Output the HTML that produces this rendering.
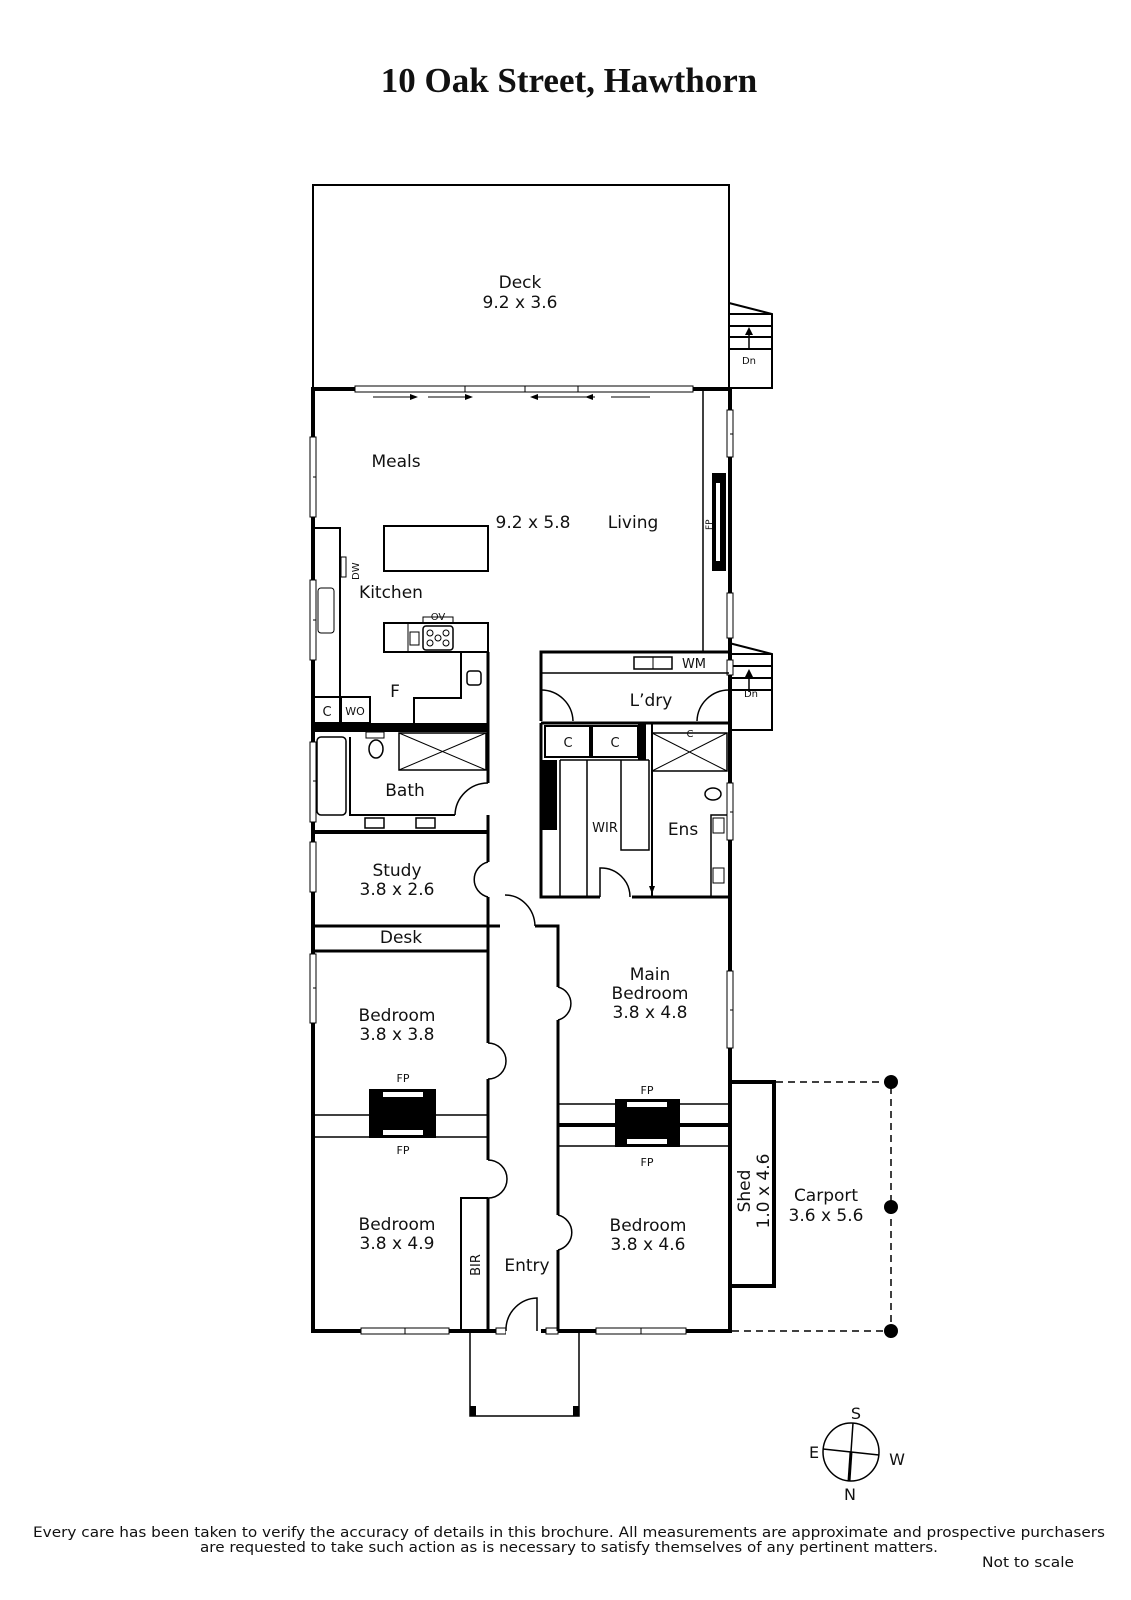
<!DOCTYPE html>
<html><head><meta charset="utf-8"><style>
html,body{margin:0;padding:0;background:#fff}
svg{display:block}
text{font-family:"DejaVu Sans","Liberation Sans",sans-serif;fill:#111}
</style></head><body>
<svg width="1131" height="1600" viewBox="0 0 1131 1600" xmlns="http://www.w3.org/2000/svg">
<text x="569" y="92" text-anchor="middle" style="font-family:'Liberation Serif',serif;font-weight:bold;font-size:35px">10 Oak Street, Hawthorn</text>

<g fill="none" stroke="#000">
<rect x="313" y="185" width="416" height="204" stroke-width="2"/>
<path d="M729 303 L772 314 L772 388 L729 388 M729 314 H772 M729 326 H772 M729 337 H772 M729 349 H772" stroke-width="2"/>
<path d="M749 350 V330" stroke-width="1.5"/>
<path d="M729 643 L772 654 L772 730 L729 730 M729 654 H772 M729 666 H772 M729 678 H772 M729 690 H772" stroke-width="2"/>
<path d="M749 692 V672" stroke-width="1.5"/>
<path d="M313 389 H730 V1331 H313 Z" stroke-width="4"/>
<path d="M703 389 V652" stroke-width="1.5"/>
</g>
<g fill="#000">
<polygon points="749,327 745,335 753,335"/>
<polygon points="749,669 745,677 753,677"/>
</g>
<text x="749" y="364" font-size="10" text-anchor="middle">Dn</text>
<text x="751" y="697" font-size="10" text-anchor="middle">Dn</text>

<g fill="#fff" stroke="#000" stroke-width="1">
<rect x="355" y="386" width="338" height="6"/>
<rect x="310" y="437" width="6" height="80"/>
<rect x="310" y="580" width="6" height="80"/>
<rect x="310" y="742" width="6" height="80"/>
<rect x="310" y="842" width="6" height="50"/>
<rect x="310" y="954" width="6" height="69"/>
<rect x="727" y="410" width="6" height="47"/>
<rect x="727" y="593" width="6" height="45"/>
<rect x="727" y="660" width="6" height="15"/>
<rect x="727" y="783" width="6" height="57"/>
<rect x="727" y="971" width="6" height="77"/>
<rect x="361" y="1328" width="88" height="6"/>
<rect x="596" y="1328" width="90" height="6"/>
<rect x="496" y="1328" width="10" height="6"/>
<rect x="546" y="1328" width="12" height="6"/>
</g>
<g stroke="#000" stroke-width="1">
<path d="M465 386V392 M525 386V392 M578 386V392 M313 477H316 M313 620H316 M313 781H316 M313 988H316 M730 434H733 M730 812H733 M730 1010H733 M405 1328V1334 M641 1328V1334"/>
<path d="M373 397H412 M428 397H465"/>
<path d="M532 397H595 M611 397H650"/>
</g>
<g fill="#000">
<polygon points="418,397 410,394 410,400"/><polygon points="473,397 465,394 465,400"/>
<polygon points="530,397 538,394 538,400"/><polygon points="585,397 593,394 593,400"/>
</g>
<rect x="506" y="1327" width="35" height="8" fill="#fff"/>
<g fill="none" stroke="#000" stroke-width="1.5"><path d="M470 1333 V1416 H579 V1333"/></g>
<rect x="470" y="1406" width="6" height="10" fill="#000"/><rect x="573" y="1406" width="6" height="10" fill="#000"/>

<rect x="712" y="473" width="14" height="98" fill="#000"/>
<rect x="716" y="483" width="4" height="78" fill="#fff"/>
<text x="0" y="0" font-size="9" transform="translate(712,530) rotate(-90)">FP</text>

<g fill="none" stroke="#000" stroke-width="2">
<rect x="384" y="526" width="104" height="45"/>
<path d="M313 528 H340 V697"/>
<rect x="341" y="557" width="5" height="20" stroke-width="1"/>
<rect x="318" y="588" width="16" height="45" rx="3" stroke-width="1"/>
<rect x="384" y="623" width="104" height="29"/>
<path d="M408 623 V652" stroke-width="1"/>
<rect x="423" y="626" width="30" height="24" rx="3" stroke-width="1.5"/>
<rect x="423" y="617" width="30" height="6" stroke-width="1"/>
<rect x="410" y="632" width="9" height="13" stroke-width="1"/>
<circle cx="430" cy="633" r="3" stroke-width="1"/><circle cx="446" cy="633" r="3" stroke-width="1"/>
<circle cx="438" cy="638" r="3" stroke-width="1"/><circle cx="430" cy="643" r="3" stroke-width="1"/><circle cx="446" cy="643" r="3" stroke-width="1"/>
<path d="M488 652 V783" stroke-width="3"/>
<path d="M461 652 V698 H414 V730"/>
<rect x="467" y="671" width="14" height="14" rx="3" stroke-width="1.5"/>
<rect x="313" y="697" width="27" height="26"/>
<rect x="341" y="697" width="29" height="26"/>
<path d="M313 730 H488" stroke-width="4"/>
<rect x="317" y="737" width="29" height="78" rx="4" stroke-width="1.5"/>
<path d="M350 737 V815 H455"/>
<rect x="366" y="732" width="18" height="6" stroke-width="1"/>
<ellipse cx="376" cy="749" rx="7" ry="9" stroke-width="1.5"/>
<rect x="399" y="733" width="87" height="37" stroke-width="1.5"/>
<path d="M399 733 L486 770 M486 733 L399 770" stroke-width="1"/>
<rect x="365" y="818" width="19" height="10" stroke-width="1.5"/>
<rect x="416" y="818" width="19" height="10" stroke-width="1.5"/>
<path d="M488 783 A33 33 0 0 0 455 815" stroke-width="1.5"/>
<path d="M313 832 H488" stroke-width="4"/>
<path d="M488 815 V862 M488 897 V1043 M488 1079 V1160 M488 1198 V1331" stroke-width="3"/>
<path d="M488 862 A18 18 0 0 0 488 897" stroke-width="1.5"/>
<path d="M313 926 H488 M313 951 H488" stroke-width="3"/>
<path d="M488 926 H500" stroke-width="3"/>
<path d="M488 1043 A18 18 0 0 1 488 1079" stroke-width="1.5"/>
<path d="M488 1160 A19 19 0 0 1 488 1198" stroke-width="1.5"/>
<path d="M313 1115 H488 M313 1137 H488" stroke-width="1.5"/>
<path d="M461 1331 V1198 H488" stroke-width="2"/>
<path d="M535 926 H558 V987 M558 1020 V1215 M558 1250 V1331" stroke-width="3"/>
<path d="M505 895 A30 32 0 0 1 535 926" stroke-width="1.5"/>
<path d="M558 987 A17 17 0 0 1 558 1020" stroke-width="1.5"/>
<path d="M558 1215 A18 18 0 0 1 558 1250" stroke-width="1.5"/>
<path d="M506 1331 V1328 A32 32 0 0 1 537 1298 V1331" stroke-width="1.5"/>
<path d="M541 721 V652 H729" stroke-width="3"/>
<path d="M541 673 H729" stroke-width="1.5"/>
<rect x="634" y="657" width="38" height="12" stroke-width="1.5"/>
<path d="M653 657 V669" stroke-width="1"/>
<path d="M541 723 H729" stroke-width="3"/>
<path d="M541 690 A32 32 0 0 1 573 721" stroke-width="1.5"/>
<path d="M729 690 A32 32 0 0 0 697 721" stroke-width="1.5"/>
<rect x="545" y="726" width="45" height="31" stroke-width="2"/>
<rect x="592" y="726" width="46" height="31" stroke-width="2"/>
<path d="M541 723 V897 H600 M632 897 H730" stroke-width="3"/>
<path d="M560 760 V897 M587 760 V897 M621 760 V850 H649 V760 M560 760 H649" stroke-width="1.5"/>
<path d="M600 897 V868 A29 29 0 0 1 630 897" stroke-width="1.5"/>
<path d="M652 723 V897" stroke-width="2"/>
<path d="M652 850 V888" stroke-width="1.5"/>
<rect x="652" y="733" width="75" height="38" stroke-width="1.5"/>
<path d="M652 733 L727 771 M727 733 L652 771" stroke-width="1"/>
<ellipse cx="713" cy="794" rx="8" ry="6" stroke-width="1.5"/>
<path d="M727 815 H711 V897" stroke-width="1.5"/>
<rect x="713" y="818" width="11" height="15" stroke-width="1"/>
<rect x="713" y="868" width="11" height="15" stroke-width="1"/>
<path d="M558 1104 H730 M558 1146 H730" stroke-width="1.5"/>
<path d="M558 1125 H730" stroke-width="4"/>
<path d="M730 1082 H774 V1286 H730" stroke-width="4"/>
</g>
<polygon points="652,894 649,886 655,886" fill="#000"/>
<rect x="313" y="723" width="175" height="8" fill="#000"/>
<rect x="638" y="723" width="8" height="37" fill="#000"/>
<rect x="541" y="760" width="16" height="70" fill="#000"/>
<rect x="369" y="1089" width="67" height="49" fill="#000"/>
<rect x="383" y="1092" width="40" height="5" fill="#fff"/><rect x="383" y="1130" width="40" height="5" fill="#fff"/>
<rect x="615" y="1099" width="65" height="48" fill="#000"/>
<rect x="627" y="1102" width="40" height="5" fill="#fff"/><rect x="627" y="1139" width="40" height="5" fill="#fff"/>

<g stroke="#000" stroke-width="1.5" stroke-dasharray="7,5" fill="none">
<path d="M776 1082 H891 V1331 H732"/>
</g>
<circle cx="891" cy="1082" r="7"/><circle cx="891" cy="1207" r="7"/><circle cx="891" cy="1331" r="7"/>

<g font-size="17" text-anchor="middle">
<text x="520" y="288">Deck</text><text x="520" y="308">9.2 x 3.6</text>
<text x="396" y="467">Meals</text>
<text x="533" y="528">9.2 x 5.8</text>
<text x="633" y="528">Living</text>
<text x="391" y="598">Kitchen</text>
<text x="395" y="697">F</text>
<text x="651" y="706">L’dry</text>
<text x="405" y="796">Bath</text>
<text x="683" y="835">Ens</text>
<text x="397" y="876">Study</text><text x="397" y="895">3.8 x 2.6</text>
<text x="401" y="943">Desk</text>
<text x="397" y="1021">Bedroom</text><text x="397" y="1040">3.8 x 3.8</text>
<text x="397" y="1230">Bedroom</text><text x="397" y="1249">3.8 x 4.9</text>
<text x="527" y="1271">Entry</text>
<text x="650" y="980">Main</text><text x="650" y="999">Bedroom</text><text x="650" y="1018">3.8 x 4.8</text>
<text x="648" y="1231">Bedroom</text><text x="648" y="1250">3.8 x 4.6</text>
<text x="826" y="1201">Carport</text><text x="826" y="1221">3.6 x 5.6</text>
</g>
<g font-size="13" text-anchor="middle">
<text x="694" y="668">WM</text>
<text x="327" y="716">C</text>
<text x="568" y="747">C</text><text x="615" y="747">C</text>
<text x="605" y="832">WIR</text>
</g>
<text x="355" y="715" font-size="11" text-anchor="middle">WO</text>
<text x="438" y="620" font-size="10" text-anchor="middle">OV</text>
<text x="690" y="737" font-size="10" text-anchor="middle">C</text>
<text x="0" y="0" font-size="10" transform="translate(359,580) rotate(-90)">DW</text>
<g font-size="11" text-anchor="middle">
<text x="403" y="1082">FP</text><text x="403" y="1154">FP</text>
<text x="647" y="1094">FP</text><text x="647" y="1166">FP</text>
</g>
<text x="0" y="0" font-size="13" text-anchor="middle" transform="translate(480,1265) rotate(-90)">BIR</text>
<text x="0" y="0" font-size="17" text-anchor="middle" transform="translate(750,1191) rotate(-90)">Shed</text>
<text x="0" y="0" font-size="17" text-anchor="middle" transform="translate(769,1191) rotate(-90)">1.0 x 4.6</text>

<ellipse cx="851" cy="1452" rx="28" ry="29" fill="none" stroke="#000" stroke-width="1.5"/>
<path d="M853 1423 L849 1481 M823 1449 L879 1455" stroke="#000" stroke-width="1.5"/>
<path d="M851 1452 L849 1481" stroke="#000" stroke-width="3"/>
<g font-size="16" text-anchor="middle">
<text x="856" y="1419">S</text><text x="814" y="1458">E</text><text x="897" y="1465">W</text><text x="850" y="1500">N</text>
</g>
<g font-size="14" text-anchor="middle" style="font-family:'Liberation Sans Narrow','Liberation Sans',sans-serif">
<text x="569" y="1537" textLength="1072" lengthAdjust="spacingAndGlyphs">Every care has been taken to verify the accuracy of details in this brochure.  All measurements are approximate and prospective purchasers</text>
<text x="569" y="1552" textLength="738" lengthAdjust="spacingAndGlyphs">are requested to take such action as is necessary to satisfy themselves of any pertinent matters.</text>
<text x="1028" y="1567" textLength="92" lengthAdjust="spacingAndGlyphs">Not to scale</text>
</g>
</svg>
</body></html>
